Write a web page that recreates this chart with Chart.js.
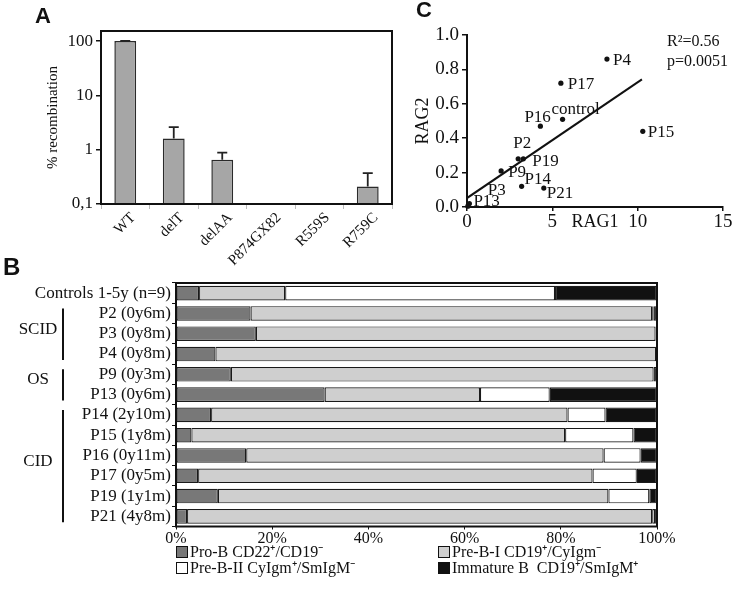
<!DOCTYPE html>
<html>
<head>
<meta charset="utf-8">
<script src="https://cdn.jsdelivr.net/npm/chart.js@4.4.0/dist/chart.umd.min.js"></script>
<style>
  body { margin: 0; background: #fff; overflow: hidden; }
  #page { position: relative; width: 733px; height: 592px; overflow: hidden; }
  canvas { position: absolute; }
  .tag { position: absolute; font-family: 'Liberation Sans', Arial, sans-serif; font-weight: bold; color: #111; }
</style>
</head>
<body>
<div id="page">
  <canvas id="chartA" width="400" height="275" style="left:0;top:0"></canvas>
  <canvas id="chartC" width="333" height="270" style="left:400px;top:0"></canvas>
  <canvas id="chartB" width="733" height="322" style="left:0;top:270px"></canvas>
  <div class="tag" style="left:35px;top:5px;font-size:22px;line-height:22px">A</div>
  <div class="tag" style="left:3px;top:255px;font-size:24px;line-height:24px">B</div>
  <div class="tag" style="left:416px;top:-1px;font-size:22px;line-height:22px">C</div>
</div>
<script>
// panel A - recombination activity
const mutants = ['WT', 'delT', 'delAA', 'P874GX82', 'R559S', 'R759C'];
const recombination = [100, 1.6, 0.65, null, null, 0.21];
const recombinationErr = [101, 2.6, 0.88, null, null, 0.37]; // top of error bar
const recombTicks = [0.1, 1, 10, 100];

// panel B - B cell precursor subsets (% of total)
const rows = ['Controls 1-5y (n=9)', 'P2 (0y6m)', 'P3 (0y8m)', 'P4 (0y8m)', 'P9 (0y3m)', 'P13 (0y6m)',
  'P14 (2y10m)', 'P15 (1y8m)', 'P16 (0y11m)', 'P17 (0y5m)', 'P19 (1y1m)', 'P21 (4y8m)'];
const proB   = [4.8, 15.5, 16.6, 8.2, 11.4, 30.9, 7.3, 3.2, 14.6, 4.6, 8.7, 2.3];
const preBI  = [17.9, 83.5, 83.1, 91.6, 87.9, 32.3, 74.1, 77.7, 74.3, 82.0, 81.2, 96.7];
const preBII = [56.1, 0.3, 0.1, 0, 0, 14.5, 7.9, 14.2, 7.7, 9.2, 8.5, 0.6];
const immB   = [21.2, 0.7, 0.2, 0.2, 0.7, 22.3, 10.7, 4.9, 3.4, 4.2, 1.6, 0.4];
const subsetNames = ['Pro-B CD22⁺/CD19⁻', 'Pre-B-I CD19⁺/CyIgm⁻', 'Pre-B-II CyIgm⁺/SmIgM⁻', 'Immature B  CD19⁺/SmIgM⁺'];
const groupNames = ['SCID', 'OS', 'CID'];
const groupFirst = [1, 4, 6];
const groupLast = [3, 5, 11];

// panel C - RAG1 vs RAG2 expression
const patients = ['P2', 'P3', 'P4', 'P9', 'P13', 'P14', 'P15', 'P16', 'P17', 'P19', 'P21', 'control'];
const rag1 = [3.0, 0.05, 8.2, 2.0, 0.14, 3.2, 10.3, 4.3, 5.5, 3.3, 4.5, 5.6];
const rag2 = [0.28, 0.005, 0.86, 0.21, 0.02, 0.12, 0.44, 0.47, 0.72, 0.28, 0.11, 0.51];
const fitX = [0, 10.25];
const fitY = [0.052, 0.742];

Chart.defaults.font.family = "'Liberation Serif', 'Times New Roman', serif";
Chart.defaults.color = '#111';
const INK = '#111';

const frame = {
  id: 'frame',
  afterDatasetsDraw(chart) {
    const { ctx, chartArea: a } = chart;
    ctx.save();
    ctx.strokeStyle = INK;
    ctx.lineWidth = 2;
    ctx.strokeRect(a.left, a.top, a.right - a.left, a.bottom - a.top);
    ctx.restore();
  }
};

const errorBars = {
  id: 'errorBars',
  afterDatasetsDraw(chart) {
    const { ctx, scales: { y } } = chart;
    const meta = chart.getDatasetMeta(0);
    ctx.save();
    ctx.strokeStyle = '#222';
    ctx.lineWidth = 1.8;
    recombinationErr.forEach((u, i) => {
      if (u == null || recombination[i] == null) return;
      const bar = meta.data[i];
      const top = y.getPixelForValue(u);
      ctx.beginPath();
      ctx.moveTo(bar.x, bar.y);
      ctx.lineTo(bar.x, top);
      ctx.moveTo(bar.x - 5, top);
      ctx.lineTo(bar.x + 5, top);
      ctx.stroke();
    });
    ctx.restore();
  }
};

new Chart(document.getElementById('chartA'), {
  type: 'bar',
  data: {
    labels: mutants,
    datasets: [{
      data: recombination,
      backgroundColor: '#a6a6a6',
      borderColor: '#2a2a2a',
      borderWidth: 1.5,
      barPercentage: 0.45,
      categoryPercentage: 1
    }]
  },
  options: {
    responsive: false,
    animation: false,
    layout: { padding: { top: 31, right: 8 } },
    plugins: { legend: { display: false }, tooltip: { enabled: false } },
    scales: {
      x: {
        border: { display: false },
        grid: { offset: true, drawOnChartArea: false, color: '#bbb', tickLength: 5 },
        ticks: { minRotation: 45, maxRotation: 45, labelOffset: 8, padding: 0, autoSkip: false, font: { size: 15 } },
        afterFit: s => { s.height = 71; }
      },
      y: {
        type: 'logarithmic',
        min: 0.1,
        max: 153,
        border: { display: false },
        grid: { drawOnChartArea: false, color: INK, lineWidth: 1.5, tickLength: 5 },
        ticks: { padding: 3, font: { size: 17 }, callback: v => String(v).replace('.', ',') },
        afterBuildTicks: s => { s.ticks = recombTicks.map(v => ({ value: v })); },
        title: { display: true, text: '% recombination', font: { size: 15 }, padding: { top: 44, bottom: 0 } },
        afterFit: s => { s.width = 101; }
      }
    }
  },
  plugins: [frame, errorBars]
});

// panel B
const groupBrackets = {
  id: 'groupBrackets',
  afterDraw(chart) {
    const { ctx, scales: { y } } = chart;
    ctx.save();
    ctx.strokeStyle = INK;
    ctx.fillStyle = INK;
    ctx.lineWidth = 2;
    ctx.font = "17px 'Liberation Serif'";
    ctx.textAlign = 'center';
    ctx.textBaseline = 'middle';
    groupNames.forEach((g, i) => {
      const top = y.getPixelForValue(groupFirst[i]) - 5;
      const bottom = y.getPixelForValue(groupLast[i]) + 6;
      ctx.beginPath();
      ctx.moveTo(63, top);
      ctx.lineTo(63, bottom);
      ctx.stroke();
      ctx.fillText(g, 38, (top + bottom) / 2 - 5);
    });
    ctx.restore();
  }
};

const subsetLegend = {
  id: 'subsetLegend',
  afterDraw(chart) {
    const { ctx } = chart;
    const colX = [176, 438];
    const rowY = [282, 298];
    ctx.save();
    ctx.font = "16px 'Liberation Serif'";
    ctx.textAlign = 'left';
    ctx.textBaseline = 'middle';
    chart.data.datasets.forEach((ds, i) => {
      const x = colX[i % 2];
      const yc = rowY[Math.floor(i / 2)];
      ctx.fillStyle = ds.backgroundColor;
      ctx.fillRect(x, yc - 6, 12, 12);
      ctx.strokeStyle = INK;
      ctx.lineWidth = 1;
      ctx.strokeRect(x + 0.5, yc - 5.5, 11, 11);
      ctx.fillStyle = INK;
      ctx.fillText(ds.label, x + 14, yc + 1);
    });
    ctx.restore();
  }
};

const subsetColors = ['#787878', '#cfcfcf', '#ffffff', '#111111'];
const subsetValues = [proB, preBI, preBII, immB];

new Chart(document.getElementById('chartB'), {
  type: 'bar',
  data: {
    labels: rows,
    datasets: subsetValues.map((vals, i) => ({
      label: subsetNames[i],
      data: vals,
      backgroundColor: subsetColors[i],
      borderColor: '#1a1a1a',
      borderWidth: 1.2,
      borderSkipped: false,
      barPercentage: 0.72,
      categoryPercentage: 1
    }))
  },
  options: {
    indexAxis: 'y',
    responsive: false,
    animation: false,
    layout: { padding: { top: 13, right: 76 } },
    plugins: { legend: { display: false }, tooltip: { enabled: false } },
    scales: {
      x: {
        stacked: true,
        min: 0,
        max: 100,
        border: { display: false },
        grid: { drawOnChartArea: false, color: INK, tickLength: 3 },
        ticks: { stepSize: 20, padding: 0, font: { size: 16 }, callback: v => v + '%' },
        afterFit: s => { s.height = 65.5; }
      },
      y: {
        stacked: true,
        border: { display: false },
        grid: { offset: true, drawOnChartArea: false, color: INK, tickLength: 4 },
        ticks: { padding: 1, autoSkip: false, font: { size: 17 } },
        afterFit: s => { s.width = 176; }
      }
    }
  },
  plugins: [frame, groupBrackets, subsetLegend]
});

// panel C
const labelNudge = {
  P2: [-5, -15], P3: [20, -16], P4: [6, 1], P9: [7, 2], P13: [4, -2], P14: [3, -7],
  P15: [5, 1], P16: [-16, -9], P17: [7, 1], P19: [9, 3], P21: [3, 5], control: [-11, -10]
};

const pointLabels = {
  id: 'pointLabels',
  afterDatasetsDraw(chart) {
    const { ctx } = chart;
    const meta = chart.getDatasetMeta(0);
    ctx.save();
    ctx.fillStyle = INK;
    ctx.font = "17px 'Liberation Serif'";
    ctx.textAlign = 'left';
    ctx.textBaseline = 'middle';
    patients.forEach((name, i) => {
      const p = meta.data[i];
      const [dx, dy] = labelNudge[name];
      ctx.fillText(name, p.x + dx, p.y + dy);
    });
    ctx.font = "16px 'Liberation Serif'";
    ctx.fillText('R²=0.56', 267, 42);
    ctx.fillText('p=0.0051', 267, 62);
    ctx.restore();
  }
};

new Chart(document.getElementById('chartC'), {
  type: 'scatter',
  data: {
    datasets: [
      {
        data: rag1.map((x, i) => ({ x, y: rag2[i] })),
        pointRadius: 2.6,
        backgroundColor: INK,
        borderWidth: 0,
        clip: false
      },
      {
        type: 'line',
        data: fitX.map((x, i) => ({ x, y: fitY[i] })),
        borderColor: INK,
        borderWidth: 2,
        pointRadius: 0,
        fill: false
      }
    ]
  },
  options: {
    responsive: false,
    animation: false,
    layout: { padding: { top: 35, right: 10 } },
    plugins: { legend: { display: false }, tooltip: { enabled: false } },
    scales: {
      x: {
        type: 'linear',
        min: 0,
        max: 15,
        border: { color: INK, width: 2 },
        grid: { drawOnChartArea: false, color: INK, lineWidth: 1.5, tickLength: 4 },
        ticks: { stepSize: 5, padding: 0, font: { size: 19 } },
        title: { display: true, text: 'RAG1', font: { size: 18 }, padding: { top: 0, bottom: 37 } },
        afterFit: s => { s.height = 63; }
      },
      y: {
        min: 0,
        max: 1,
        border: { color: INK, width: 2 },
        grid: { drawOnChartArea: false, color: INK, lineWidth: 1.5, tickLength: 5 },
        ticks: { stepSize: 0.2, padding: 3, font: { size: 19 }, callback: v => v.toFixed(1) },
        title: { display: true, text: 'RAG2', font: { size: 18 }, padding: { top: 12, bottom: 0 } },
        afterFit: s => { s.width = 67; }
      }
    }
  },
  plugins: [pointLabels]
});
</script>
</body>
</html>
